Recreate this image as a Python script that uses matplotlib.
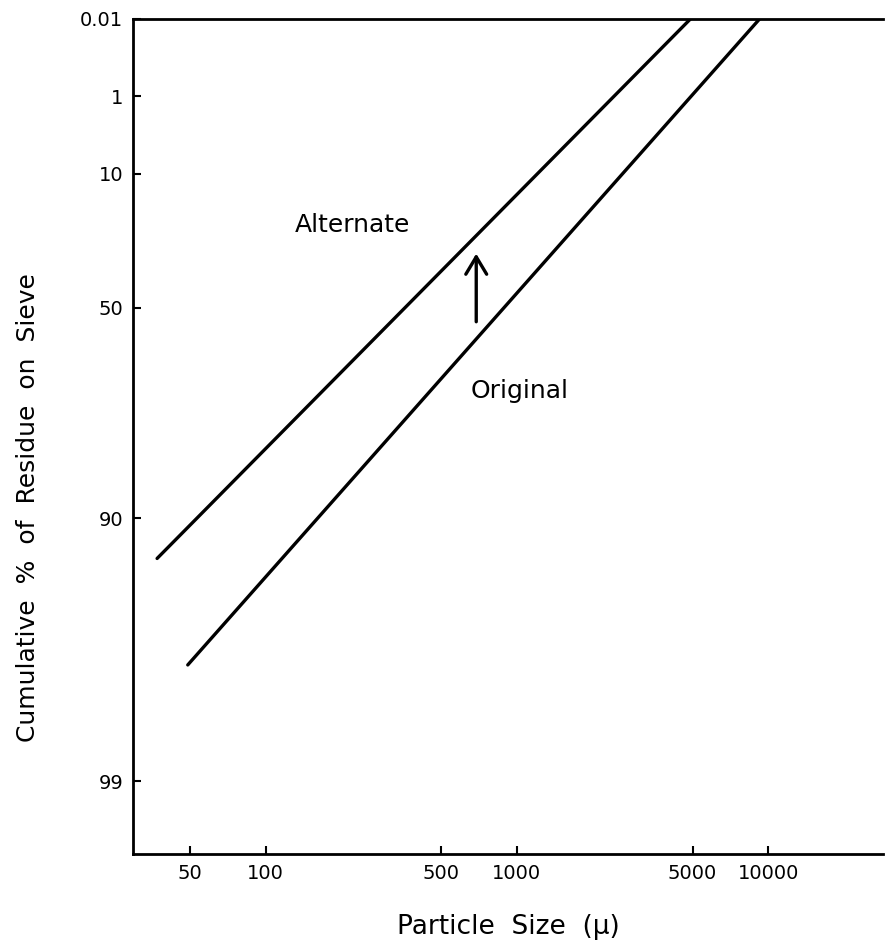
# rosin_rammler.py
# cumulative residue on sieve vs particle size, on a Rosin-Rammler grid
# two straight distributions: the original one and the shifted alternate one

import numpy as np
import matplotlib.pyplot as plt

# values
alt_size = [37, 4910]          # particle size (micron)
alt_resid = [92.9, 0.01]       # cumulative % residue
orig_size = [49, 9250]
orig_resid = [97.2, 0.01]

arrow_size = 689
arrow_from = 54.2
arrow_to = 32.4

x_ticks = [50, 100, 500, 1000, 5000, 10000]
x_labels = ["50", "100", "500", "1000", "5000", "10000"]
y_ticks = [0.01, 1, 10, 50, 90, 99]
y_labels = ["0.01", "1", "10", "50", "90", "99"]


def rr_forward(r):
    # Rosin-Rammler ordinate: log10(ln(100/R))
    r = np.clip(np.asarray(r, dtype=float), 1e-6, 100 - 1e-9)
    return np.log10(np.log(100.0 / r))


def rr_inverse(t):
    return 100.0 * np.exp(-np.power(10.0, t))


plt.rcParams['font.family'] = ['DejaVu Sans']

fig = plt.figure(figsize=(8.85, 9.43), dpi=100)
ax = fig.add_axes([0.150, 0.094, 0.848, 0.886])

ax.set_xscale("log")
ax.set_yscale("function", functions=(rr_forward, rr_inverse))

ax.plot(alt_size, alt_resid, color="black", lw=2.4, solid_capstyle="round")
ax.plot(orig_size, orig_resid, color="black", lw=2.4, solid_capstyle="round")

# shift arrow
ax.annotate("", xy=(arrow_size, arrow_to), xytext=(arrow_size, arrow_from),
            arrowprops=dict(arrowstyle="->,head_length=0.5,head_width=0.3",
                            lw=2.4, color="black", mutation_scale=25,
                            shrinkA=0, shrinkB=0))

ax.text(221, 23.2, "Alternate", fontsize=18, ha="center", va="center")
ax.text(1023, 72, "Original", fontsize=18, ha="center", va="center")

ax.set_xlim(29.6, 28700)
# scale is decreasing in R, so pass the limits this way round
ax.set_ylim(0.01, 99.48)

ax.set_xticks(x_ticks)
ax.set_xticklabels(x_labels)
ax.set_yticks(y_ticks)
ax.set_yticklabels(y_labels)
ax.minorticks_off()

ax.tick_params(axis="both", direction="in", length=6, width=1.5,
               labelsize=14, pad=7)

for side in ["left", "bottom", "top"]:
    ax.spines[side].set_linewidth(2)
ax.spines["right"].set_visible(False)

ax.set_xlabel("Particle  Size  (\u03bc)", fontsize=19, labelpad=22)
ax.set_ylabel("Cumulative  %  of  Residue  on  Sieve", fontsize=18)
ax.yaxis.set_label_coords(-0.123, 0.415)

fig.savefig("out.png", dpi=100)
